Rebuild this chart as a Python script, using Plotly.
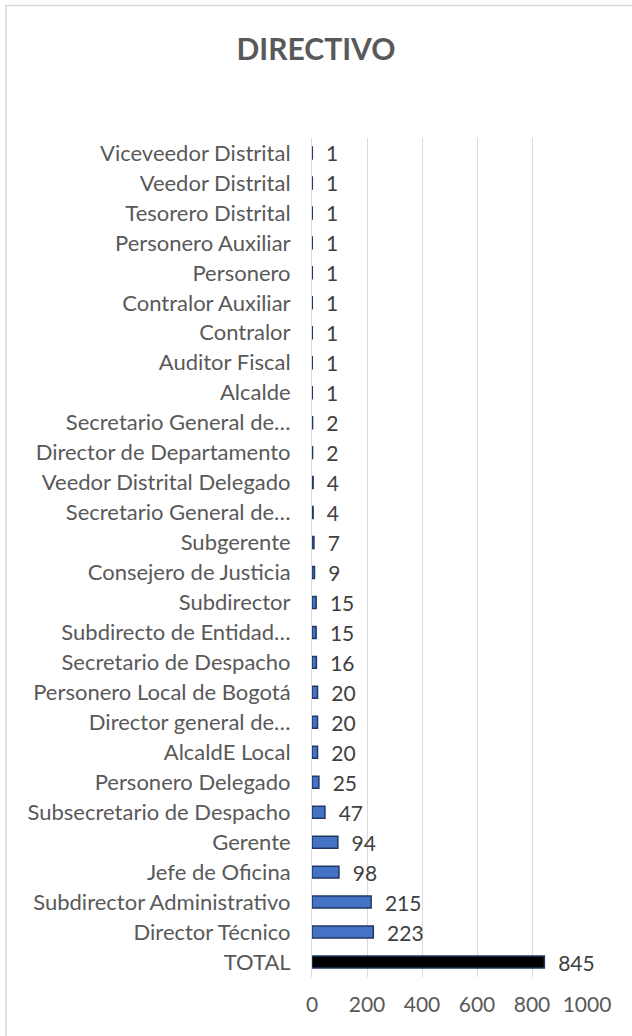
import plotly.graph_objects as go

categories = [
    "TOTAL", "Director Técnico", "Subdirector Administrativo", "Jefe de Oficina", "Gerente",
    "Subsecretario de Despacho", "Personero Delegado", "AlcaldE Local", "Director general de…",
    "Personero Local de Bogotá", "Secretario de Despacho", "Subdirecto de Entidad…", "Subdirector",
    "Consejero de Justicia", "Subgerente", "Secretario General de…", "Veedor Distrital Delegado",
    "Director de Departamento", "Secretario General de…", "Alcalde", "Auditor Fiscal", "Contralor",
    "Contralor Auxiliar", "Personero", "Personero Auxiliar", "Tesorero Distrital",
    "Veedor Distrital", "Viceveedor Distrital",
]
values = [845, 223, 215, 98, 94, 47, 25, 20, 20, 20, 16, 15, 15, 9, 7, 4, 4, 2, 2,
          1, 1, 1, 1, 1, 1, 1, 1, 1]
x_ticks = [0, 200, 400, 600, 800, 1000]

positions = list(range(len(categories)))
fill_colors = ["#000000" if c == "TOTAL" else "#4472C4" for c in categories]
FONT = "Lato, Open Sans, sans-serif"

fig = go.Figure()
fig.add_trace(go.Bar(
    x=values, y=positions, orientation="h", width=0.4,
    marker=dict(color=fill_colors, line=dict(color="#1F3864", width=1.5)),
    text=values, texttemplate="\u00a0\u00a0%{x}", textposition="outside",
    cliponaxis=False, constraintext="none",
    textfont=dict(family=FONT, size=21, color="#404040"),
))

fig.update_layout(
    width=632, height=1036,
    margin=dict(l=312, r=45, t=138, b=59),
    paper_bgcolor="white", plot_bgcolor="white",
    showlegend=False,
    title=dict(text="<b>DIRECTIVO</b>", x=0.5, xref="container", xanchor="center",
               y=1 - 49 / 1036, yref="container", yanchor="middle",
               font=dict(family=FONT, size=30, color="#595959")),
    xaxis=dict(range=[0, 1000], tickvals=x_ticks, showgrid=True, gridcolor="#D9D9D9",
               gridwidth=1, zeroline=False, showline=False, ticklabelstandoff=13,
               tickfont=dict(family=FONT, size=21, color="#595959")),
    yaxis=dict(range=[-0.5, len(categories) - 0.5], tickvals=positions, ticktext=categories,
               showgrid=False, zeroline=False, showline=True, linecolor="#D9D9D9", linewidth=1,
               ticklabelstandoff=16,
               tickfont=dict(family=FONT, size=22, color="#595959")),
    font=dict(family=FONT),
)

fig.add_shape(type="rect", xref="paper", yref="paper",
              x0=(6 - 312) / 275, x1=(700 - 312) / 275,
              y0=-0.2, y1=(977 - 5.5) / 839,
              line=dict(color="#D9D9D9", width=1.5), fillcolor="rgba(0,0,0,0)", layer="below")

fig.write_html("out.html", config={"displayModeBar": False},
               post_script="document.body.style.margin='0';document.body.style.overflow='hidden';")
